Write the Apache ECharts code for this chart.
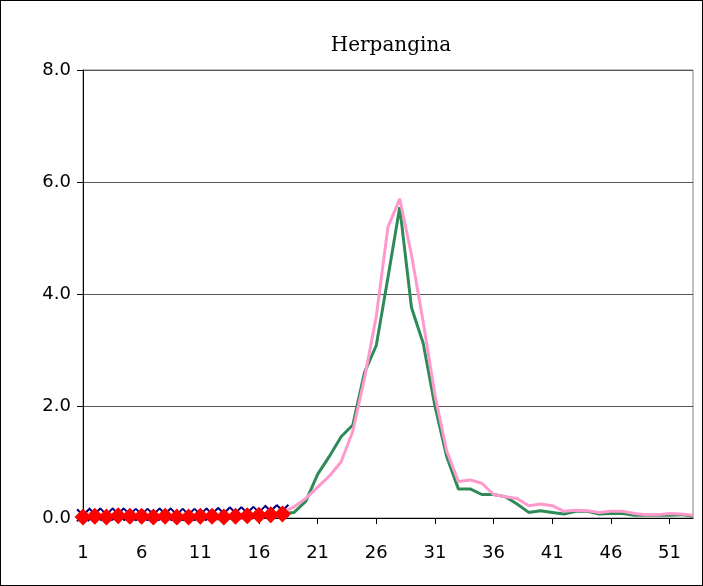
<!DOCTYPE html>
<html>
<head>
<meta charset="utf-8">
<script src="https://cdn.jsdelivr.net/npm/echarts@6/dist/echarts.min.js"></script>
<style>
  html, body { margin: 0; padding: 0; background: #fff; }
  #chart { width: 703px; height: 586px; box-sizing: border-box; border: 1px solid #000; }
</style>
</head>
<body>
<div id="chart"></div>
<script>
// weeks 1..53
var weeks = [];
for (var i = 1; i <= 53; i++) weeks.push(String(i));

// previous season (green)
var greenValues = [0.02,0.02,0.02,0.02,0.02,0.02,0.02,0.02,0.02,0.02,0.02,0.02,0.02,0.02,0.03,0.04,0.05,0.08,
  0.1,0.3,0.78,1.1,1.45,1.66,2.6,3.08,4.3,5.55,3.76,3.12,2.0,1.1,0.52,0.52,0.42,0.42,0.38,0.25,0.1,0.13,
  0.1,0.07,0.12,0.12,0.07,0.08,0.08,0.05,0.05,0.05,0.05,0.06,0.03];

// average (pink)
var pinkValues = [0.02,0.02,0.02,0.02,0.02,0.02,0.02,0.02,0.02,0.02,0.02,0.02,0.03,0.03,0.04,0.05,0.06,0.1,
  0.2,0.35,0.55,0.75,1.0,1.55,2.5,3.6,5.2,5.7,4.7,3.5,2.2,1.2,0.65,0.68,0.62,0.42,0.38,0.35,0.22,0.25,
  0.22,0.12,0.14,0.13,0.1,0.12,0.12,0.08,0.06,0.06,0.08,0.07,0.05];

// blue cross markers (weeks 1-18)
var blueValues = [0.05,0.07,0.06,0.07,0.06,0.06,0.06,0.07,0.06,0.06,0.06,0.07,0.08,0.09,0.09,0.1,0.12,0.13];

// current season red diamonds (weeks 1-18)
var redValues = [0.02,0.03,0.02,0.04,0.03,0.03,0.02,0.03,0.02,0.02,0.03,0.03,0.02,0.03,0.04,0.05,0.06,0.07];

var yTicks = [0, 2, 4, 6, 8];

var crossPath = 'path://M0,0L10,10M10,0L0,10';

var chart = echarts.init(document.getElementById('chart'));
chart.setOption({
  animation: false,
  title: {
    text: 'Herpangina', left: 385, top: 30, textAlign: 'center',
    textStyle: { fontFamily: 'DejaVu Serif', fontWeight: 'normal', fontSize: 20, color: '#000' }
  },
  grid: { left: 82, right: 9, top: 69, bottom: 67, show: true, borderColor: '#808080', borderWidth: 1 },
  xAxis: {
    type: 'category', data: weeks, boundaryGap: false,
    axisLine: { lineStyle: { color: '#000' } },
    axisTick: { interval: 4, alignWithLabel: true, lineStyle: { color: '#000' }, length: 6 },
    axisLabel: { interval: 4, color: '#000', fontSize: 18, fontFamily: 'DejaVu Sans', margin: 26 },
    splitLine: { show: false }
  },
  yAxis: {
    type: 'value', min: yTicks[0], max: yTicks[yTicks.length - 1], interval: 2,
    axisLine: { show: true, lineStyle: { color: '#000' } },
    axisTick: { show: true, inside: false, length: 6, lineStyle: { color: '#000' } },
    axisLabel: { color: '#000', fontSize: 18, fontFamily: 'DejaVu Sans', margin: 12,
      formatter: function (v) { return v.toFixed(1); } },
    splitLine: { lineStyle: { color: '#555', width: 1 } }
  },
  series: [
    { type: 'line', data: greenValues, symbol: 'none', lineStyle: { color: '#2e8b57', width: 3 } },
    { type: 'line', data: pinkValues, symbol: 'none', lineStyle: { color: '#ff99cc', width: 3 } },
    { type: 'line', data: blueValues, symbol: crossPath, symbolSize: 12, showAllSymbol: true,
      lineStyle: { width: 0 },
      itemStyle: { color: 'none', borderColor: '#000080', borderWidth: 2 } },
    { type: 'line', data: redValues, symbol: 'diamond', symbolSize: 17, showAllSymbol: true,
      lineStyle: { color: '#ff0000', width: 2 },
      itemStyle: { color: '#ff0000' } }
  ]
});
</script>
</body>
</html>
